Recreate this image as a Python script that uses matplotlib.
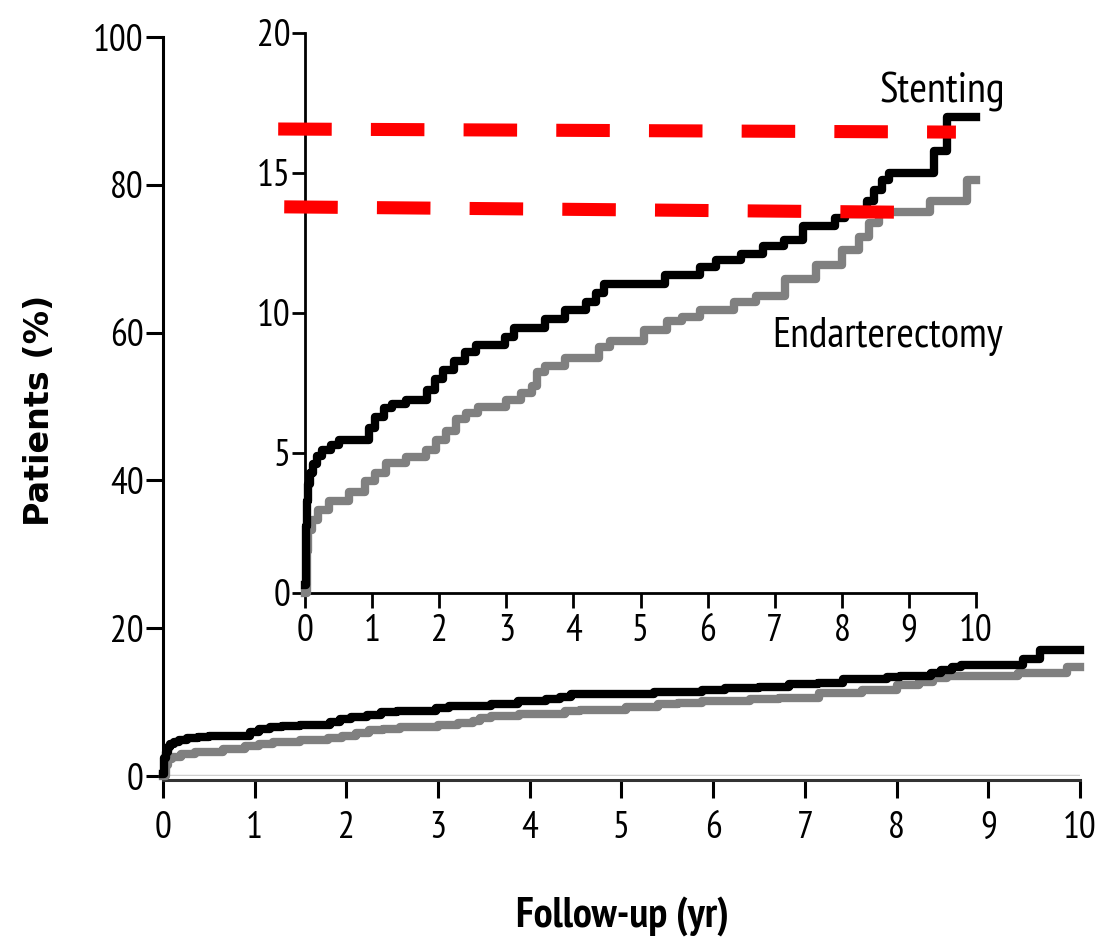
import matplotlib
matplotlib.use("Agg")
import matplotlib.pyplot as plt

# cumulative incidence, percent of patients, by follow-up year
stent_years = [0.0, 0.01, 0.03, 0.05, 0.08, 0.12, 0.18, 0.26, 0.38, 0.5, 0.95, 1.05, 1.17, 1.3, 1.5,
               1.82, 1.93, 2.05, 2.22, 2.38, 2.55, 2.98, 3.12, 3.58, 3.87, 4.18, 4.33, 4.45, 5.36,
               5.88, 6.13, 6.5, 6.83, 7.14, 7.42, 7.9, 8.04, 8.38, 8.48, 8.6, 8.7, 9.38, 9.56, 10.0]
stent_pct = [0.3, 2.4, 3.3, 3.9, 4.3, 4.6, 4.9, 5.1, 5.3, 5.45, 5.9, 6.3, 6.6, 6.75, 6.9,
             7.25, 7.65, 7.95, 8.3, 8.6, 8.85, 9.15, 9.45, 9.8, 10.1, 10.4, 10.7, 11.05, 11.35,
             11.65, 11.9, 12.1, 12.4, 12.6, 13.1, 13.4, 13.55, 14.0, 14.4, 14.75, 15.0, 15.8, 17.0, 17.0]

endart_years = [0.0, 0.03, 0.05, 0.1, 0.2, 0.35, 0.65, 0.9, 1.05, 1.2, 1.5, 1.8, 1.95, 2.1, 2.25,
                2.4, 2.58, 3.0, 3.22, 3.38, 3.46, 3.58, 3.88, 4.38, 4.55, 5.05, 5.4, 5.62, 5.88,
                6.4, 6.72, 7.15, 7.62, 8.0, 8.25, 8.4, 8.55, 9.32, 9.86, 10.0]
endart_pct = [0.0, 1.5, 2.25, 2.6, 2.95, 3.3, 3.6, 4.0, 4.3, 4.64, 4.87, 5.1, 5.46, 5.8, 6.2,
              6.43, 6.64, 6.9, 7.14, 7.38, 7.9, 8.1, 8.4, 8.8, 9.0, 9.4, 9.7, 9.85, 10.1,
              10.4, 10.6, 11.2, 11.7, 12.25, 12.7, 13.2, 13.6, 14.0, 14.75, 14.75]

# dashed red reference levels drawn over the zoomed panel
upper_ref_x = [-0.40, 9.70]
upper_ref_y = [16.57, 16.46]
lower_ref_x = [-0.31, 8.82]
lower_ref_y = [13.79, 13.60]

main_yticks = [0, 20, 40, 60, 80, 100]
inset_yticks = [0, 5, 10, 15, 20]
year_ticks = list(range(11))

NARROW = "PT Sans Narrow"
plt.rcParams["font.family"] = [NARROW, "DejaVu Sans"]

STENT_C = "#000000"
ENDART_C = "#808080"

fig = plt.figure(figsize=(11.04, 9.42), dpi=100)

# full scale panel
ax = fig.add_axes([0.1476, 0.1762, 0.8306, 0.7845])
ax.axhline(0, color="#cfcfcf", lw=2.5, zorder=1)
ax.step(endart_years, endart_pct, where="post", color=ENDART_C, lw=6, clip_on=False, zorder=3)
ax.step(stent_years, stent_pct, where="post", color=STENT_C, lw=6, clip_on=False, zorder=4)
ax.set_xlim(0, 10)
ax.set_ylim(0, 100)
ax.set_xticks(year_ticks)
ax.set_yticks(main_yticks)
for s in ["top", "right"]:
    ax.spines[s].set_visible(False)
ax.spines["left"].set_linewidth(2.2)
ax.spines["bottom"].set_linewidth(2.2)
ax.spines["bottom"].set_color("#333333")
ax.spines["bottom"].set_position(("outward", 3))
ax.tick_params(axis="x", direction="out", length=13, width=2.2, labelsize=27, pad=9)
ax.tick_params(axis="y", direction="out", length=12, width=2.2, labelsize=27, pad=2)

fig.text(622 / 1104, 1 - 927 / 942, "Follow-up (yr)", fontsize=30.5, fontweight="bold",
         ha="center", va="baseline")
fig.text(49 / 1104, 1 - 410 / 942, "Patients (%)", fontsize=24, fontweight="bold",
         family="DejaVu Sans", rotation=90, rotation_mode="anchor", ha="center", va="baseline")

# zoomed panel, 0-20 %
ins = fig.add_axes([0.2763, 0.3705, 0.6078, 0.5945])
ins.patch.set_alpha(0)
ins.step(endart_years, endart_pct, where="post", color=ENDART_C, lw=6, clip_on=False, zorder=3)
ins.step(stent_years, stent_pct, where="post", color=STENT_C, lw=6, clip_on=False, zorder=4)
for xs, ys in [(upper_ref_x, upper_ref_y), (lower_ref_x, lower_ref_y)]:
    ins.plot(xs, ys, color="#ff0000", lw=9.4, linestyle=(0, (4.1, 3.0)),
             dash_capstyle="butt", clip_on=False, zorder=6)
ins.set_xlim(0, 10)
ins.set_ylim(0, 20)
ins.set_xticks(year_ticks)
ins.set_yticks(inset_yticks)
for s in ["top", "right"]:
    ins.spines[s].set_visible(False)
ins.spines["left"].set_linewidth(2)
ins.spines["bottom"].set_linewidth(2)
ins.tick_params(axis="x", direction="out", length=11, width=2, labelsize=27, pad=4)
ins.tick_params(axis="y", direction="out", length=9.5, width=2, labelsize=27, pad=1)

fig.text(880 / 1104, 1 - 102 / 942, "Stenting", fontsize=31, ha="left", va="baseline")
fig.text(772 / 1104, 1 - 347 / 942, "Endarterectomy", fontsize=30.5, ha="left", va="baseline")

fig.savefig("out.png", dpi=100)
